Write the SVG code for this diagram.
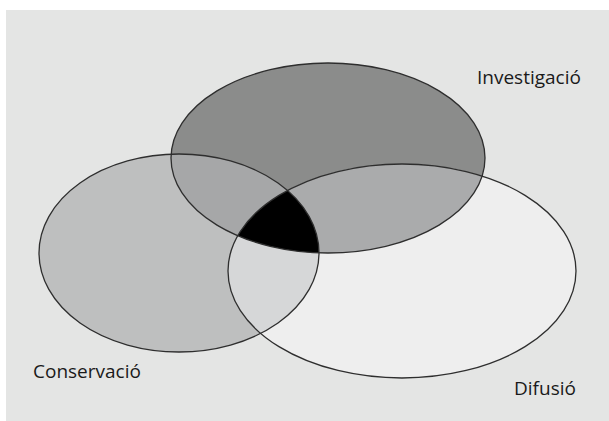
<svg xmlns="http://www.w3.org/2000/svg" width="609" height="421" viewBox="0 0 609 421">
<style>
.lbl{font-family:"Open Sans","Liberation Sans",sans-serif;font-size:19px;fill:#1a1a1a}
.ol{fill:none;stroke:#2e2e2e;stroke-width:1.3}
</style>
<defs>
<clipPath id="cC"><ellipse cx="179" cy="253" rx="140" ry="99"/></clipPath>
<clipPath id="cI"><ellipse cx="328" cy="158" rx="157" ry="95"/></clipPath>
<clipPath id="cD"><ellipse cx="402" cy="271" rx="174" ry="107"/></clipPath>
</defs>
<rect x="0" y="0" width="609" height="421" fill="#ffffff"/>
<rect x="6" y="10" width="603" height="411" fill="#e4e5e4"/>
<g id="conservacio">
<ellipse cx="179" cy="253" rx="140" ry="99" fill="#bebfbf"/>
</g>
<g id="investigacio">
<ellipse cx="328" cy="158" rx="157" ry="95" fill="#8b8c8b"/>
</g>
<g id="difusio">
<ellipse cx="402" cy="271" rx="174" ry="107" fill="#eeeeee"/>
</g>
<g id="overlaps">
<g clip-path="url(#cC)"><ellipse cx="328" cy="158" rx="157" ry="95" fill="#a6a7a8"/></g>
<g clip-path="url(#cD)"><ellipse cx="328" cy="158" rx="157" ry="95" fill="#aaabac"/></g>
<g clip-path="url(#cC)"><ellipse cx="402" cy="271" rx="174" ry="107" fill="#d6d7d8"/></g>
<g clip-path="url(#cC)"><g clip-path="url(#cD)"><ellipse cx="328" cy="158" rx="157" ry="95" fill="#000000"/></g></g>
</g>
<g id="outlines">
<ellipse class="ol" cx="179" cy="253" rx="140" ry="99"/>
<ellipse class="ol" cx="328" cy="158" rx="157" ry="95"/>
<ellipse class="ol" cx="402" cy="271" rx="174" ry="107"/>
</g>
<g id="labels">
<text class="lbl" x="477" y="84">Investigació</text>
<text class="lbl" x="33" y="378">Conservació</text>
<text class="lbl" x="514" y="395">Difusió</text>
</g>
</svg>
